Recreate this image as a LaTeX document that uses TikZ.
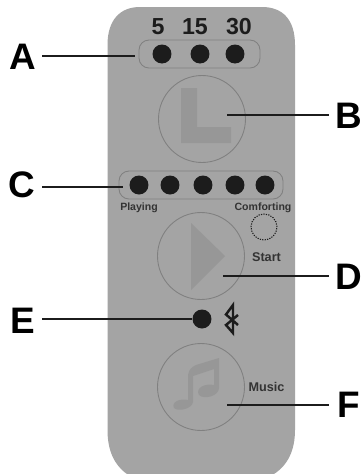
\documentclass[tikz,border=0pt]{standalone}
\usepackage{fontspec}
\setmainfont{Liberation Sans}
\definecolor{bodyg}{HTML}{A4A4A4}
\definecolor{edgeg}{HTML}{808080}
\definecolor{glyphg}{HTML}{979797}
\definecolor{ink}{HTML}{1C1C1C}
\tikzset{
  x=0.02cm,y=-0.02cm,
  bigletter/.style={font=\fontsize{21}{21}\selectfont\bfseries,text=black,inner ysep=0pt},
  num/.style={font=\fontsize{13.2}{13.2}\selectfont\bfseries,text=ink,inner sep=0pt},
  small/.style={font=\fontsize{6}{6}\selectfont\bfseries,text=ink!90,inner sep=0pt},
  smallb/.style={font=\fontsize{7.2}{7.2}\selectfont\bfseries,text=ink!90,inner sep=0pt},
  led/.style={circle,fill=ink,draw=none,minimum size=0.38cm,inner sep=0pt},
  pill/.style={draw=edgeg,line width=0.5pt,rounded corners=0.2cm},
  bigbutton/.style={circle,draw=edgeg,line width=0.5pt,minimum size=1.74cm,inner sep=0pt},
  leader/.style={draw=ink,line width=1pt},
}
\begin{document}
\begin{tikzpicture}
\useasboundingbox (0,0) rectangle (363,474);
\fill[white] (0,0) rectangle (363,474);
% body
\fill[bodyg] (127,474) .. controls (114,465) and (107.5,450) .. (107.5,430)
  -- (107.5,45) .. controls (107.5,20) and (120,7) .. (140,7)
  -- (262,7) .. controls (283,7) and (295,20) .. (295,45)
  -- (295,430) .. controls (295,450) and (288,465) .. (274,474) -- cycle;
% top timers
\node[num] (n5) at (158,27) {5};
\node[num] (n15) at (195,27) {15};
\node[num] (n30) at (239,27) {30};
\draw[pill] (139,40) rectangle (260,68);
\node[led] (a1) at (162,54) {};
\node[led] (a2) at (200,54) {};
\node[led] (a3) at (235,54) {};
% B
\fill[glyphg] (181,88) -- (197,88) -- (197,127) -- (231,127) -- (231,143) -- (181,143) -- cycle;
\node[bigbutton] (bb) at (202,119) {};
% C
\draw[pill] (119,171) rectangle (283,199);
\node[led] (c1) at (139,185) {};
\node[led] (c2) at (170,185) {};
\node[led] (c3) at (203,185) {};
\node[led] (c4) at (235,185) {};
\node[led] (c5) at (265,185) {};
\node[small] (playing) at (139,207.5) {Playing};
\node[small] (comforting) at (263,207.5) {Comforting};
\node[circle,draw=ink,dash pattern=on 0.7pt off 0.7pt,line width=0.6pt,minimum size=0.52cm,inner sep=0pt] (ring) at (264,227) {};
% D
\fill[glyphg] (191,223) -- (225,256) -- (191,290) -- cycle;
\node[bigbutton] (db) at (201,256) {};
\node[smallb] (start) at (266.5,257) {Start};
% E
\node[led] (e1) at (202,319) {};
\draw[ink,line width=1.4pt,line join=miter] (238,325) -- (226,314.5) -- (233,305) -- (233,333) -- (226,325) -- (238,315);
% F
\fill[glyphg] (188,375) .. controls (189,369) and (192,367) .. (196,365) -- (219,358) -- (219,388)
  .. controls (219,396) and (204,400) .. (199,395) .. controls (195,388) and (205,383) .. (214,385)
  -- (214,369) -- (193,376) -- (193,402) .. controls (192,409) and (178,412) .. (174,408)
  .. controls (171,402) and (180,398) .. (188,400) -- cycle;
\node[bigbutton] (fb) at (201,387) {};
\node[smallb] (music) at (266.5,387) {Music};
% letters
\node[bigletter,inner xsep=3.2pt] (A) at (23,57) {A};
\node[bigletter,inner xsep=3.8pt] (B) at (349,116) {B};
\node[bigletter,inner xsep=3.8pt] (C) at (22,185) {C};
\node[bigletter,inner xsep=3.8pt] (D) at (349,277) {D};
\node[bigletter,inner xsep=3.8pt] (E) at (23,321) {E};
\node[bigletter,inner xsep=4.9pt] (F) at (349,405) {F};
\coordinate (ta) at (135,56);
\coordinate (tb) at (227,115);
\coordinate (tc) at (123,187);
\coordinate (td) at (223,276);
\coordinate (tf) at (227,405);
\draw[leader] (A.east |- ta) -- (ta);
\draw[leader] (B.west |- tb) -- (tb);
\draw[leader] (C.east |- tc) -- (tc);
\draw[leader] (D.west |- td) -- (td);
\draw[leader] (E.east |- e1) -- (e1);
\draw[leader] (F.west |- tf) -- (tf);
\end{tikzpicture}
\end{document}
